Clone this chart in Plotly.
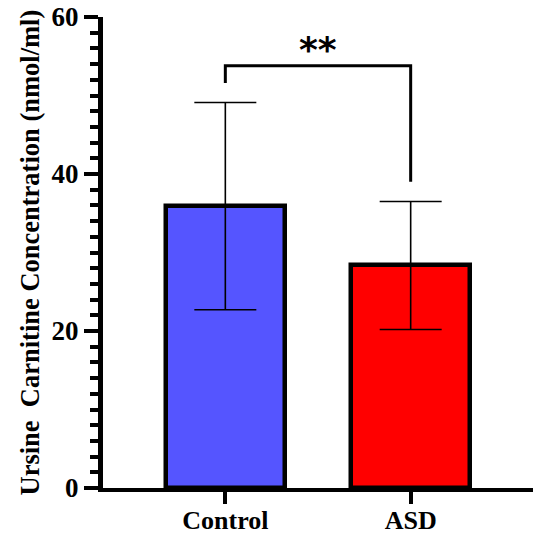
import plotly.graph_objects as go

categories = ["Control", "ASD"]
means = [35.9, 28.35]
sds = [13.2, 8.15]
bar_colors = ["#5555FF", "#FF0000"]
y_ticks = [0, 20, 40, 60]
sig_label = "**"
bracket_y = [51.6, 53.8, 53.8, 39.0]
y_title = "Ursine  Carnitine Concentration (nmol/ml)"

serif = "Liberation Serif"

fig = go.Figure()
fig.add_trace(go.Bar(
    x=[0, 1], y=means, width=0.643,
    marker=dict(color=bar_colors, line=dict(color="black", width=4.5)),
    error_y=dict(type="data", array=sds, visible=True, color="black", thickness=1.6, width=31),
    showlegend=False, hoverinfo="skip",
))
fig.add_trace(go.Scatter(
    x=[0, 0, 1, 1], y=bracket_y, mode="lines",
    line=dict(color="black", width=3), showlegend=False, hoverinfo="skip",
))
fig.add_annotation(x=0.5, y=55.8, xref="x", yref="y", text=sig_label, showarrow=False,
                   font=dict(family="DejaVu Sans", size=36, color="black", weight="bold"))
fig.add_annotation(x=0, y=0.5, xref="paper", yref="paper", xshift=-74, text=y_title,
                   textangle=-90, showarrow=False, xanchor="center", yanchor="middle",
                   font=dict(family=serif, size=26.5, color="black", weight="bold"))

fig.update_layout(
    width=533, height=534,
    margin=dict(l=103, r=0, t=17, b=46),
    paper_bgcolor="white", plot_bgcolor="white",
    bargap=0,
)
fig.update_xaxes(
    range=[-0.66, 1.66], tickvals=[0, 1], ticktext=categories, automargin=False,
    showline=True, linecolor="black", linewidth=4, showgrid=False, zeroline=False,
    ticks="outside", ticklen=12, tickwidth=4, tickcolor="black", ticklabelstandoff=-6,
    tickfont=dict(family=serif, size=26, color="black", weight="bold"),
)
fig.update_yaxes(
    range=[0, 60], tickvals=y_ticks, automargin=False,
    showline=True, linecolor="black", linewidth=5, showgrid=False, zeroline=False,
    ticks="outside", ticklen=14, tickwidth=4, tickcolor="black",
    tickfont=dict(family=serif, size=27, color="black", weight="bold"),
    minor=dict(dtick=2, ticks="outside", ticklen=8, tickwidth=3.5, tickcolor="black", showgrid=False),
)
fig.write_html("out.html", config={"displayModeBar": False},
               post_script="document.body.style.margin='0';document.body.style.overflow='hidden';")
